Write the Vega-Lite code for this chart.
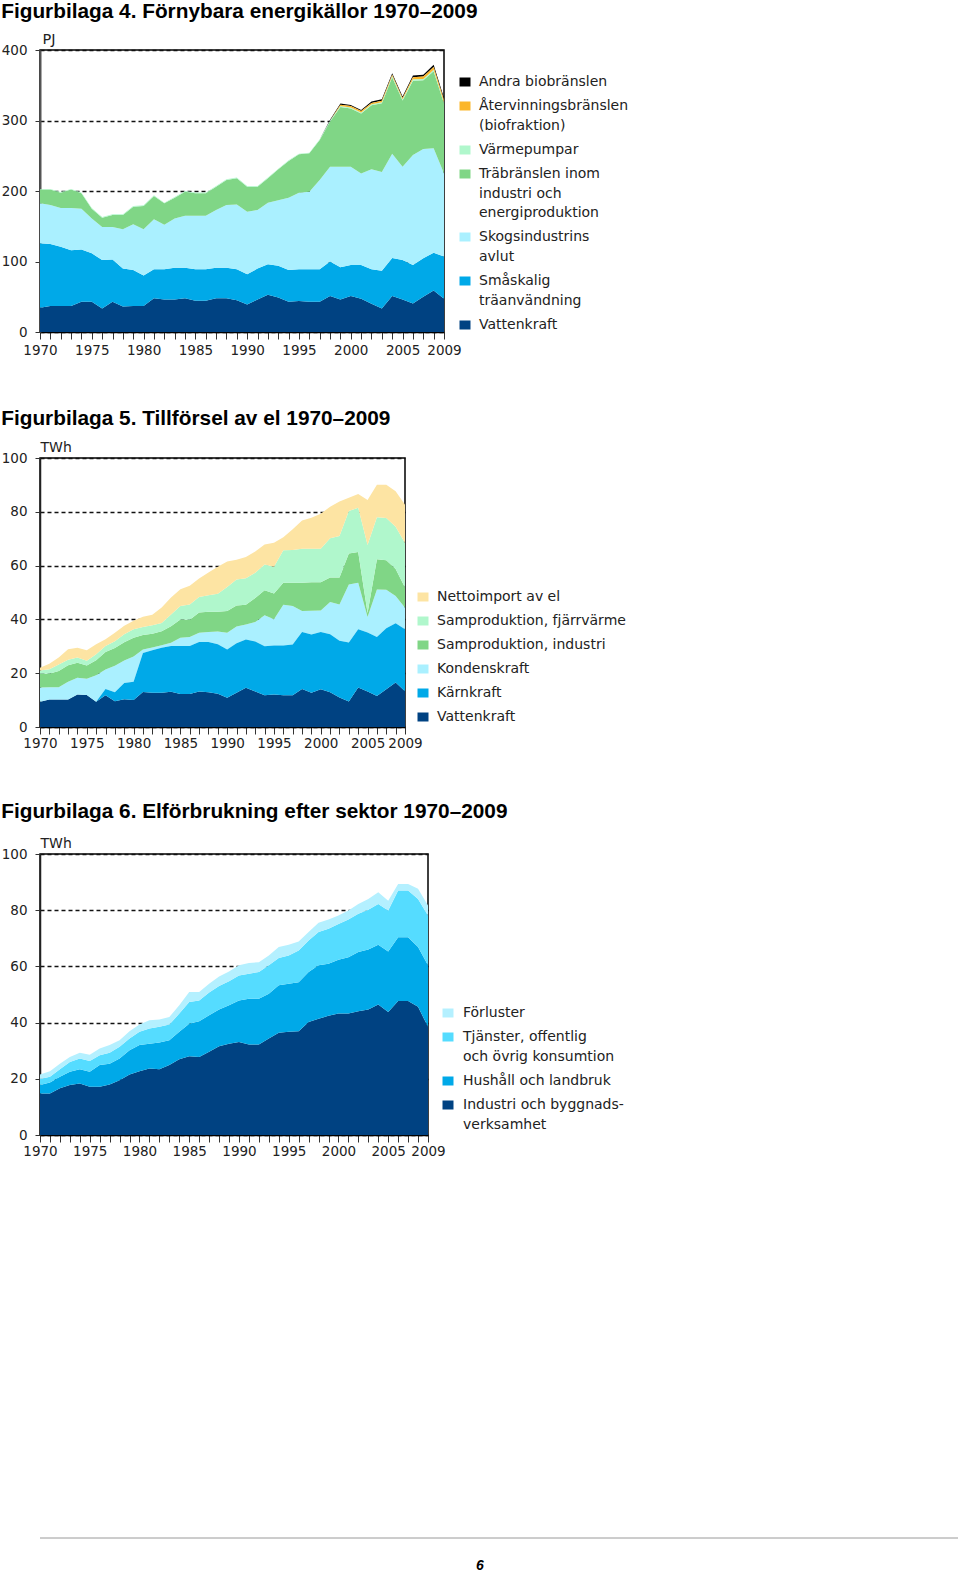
{
"$schema": "https://vega.github.io/schema/vega-lite/v6.json",
"background": "white",
"padding": {"left": 0, "top": 0, "right": 0, "bottom": 0},
"config": {
 "view": {"stroke": "#000", "strokeWidth": 1.5},
 "font": "DejaVu Sans",
 "axis": {"labelFont": "DejaVu Sans", "labelFontSize": 13.5, "labelColor": "#222", "titleFont": "DejaVu Sans", "titleFontSize": 14, "titleFontWeight": "normal", "titleColor": "#222", "tickColor": "#333", "domainColor": "#333"},
 "legend": {"labelFont": "DejaVu Sans", "labelFontSize": 14, "labelColor": "#222"},
 "title": {"font": "Liberation Sans", "fontSize": 20.8, "fontWeight": "bold", "anchor": "start", "frame": "bounds", "color": "#000"},
 "area": {"opacity": 1}
},
"spacing": 378,
"vconcat": [
{
"spacing": 49,
"resolve": {"scale": {"color": "independent"}, "legend": {"color": "independent"}},
"vconcat": [
{
 "title": {"text": "Figurbilaga 4. Förnybara energikällor 1970–2009", "offset": 8},
 "width": 404, "height": 282,
 "data": {"values": [
{"year":1970,"s":1,"v":34.5},{"year":1970,"s":2,"v":91.3},{"year":1970,"s":3,"v":56.7},{"year":1970,"s":4,"v":19.5},{"year":1970,"s":5,"v":1},
{"year":1971,"s":1,"v":37},{"year":1971,"s":2,"v":88},{"year":1971,"s":3,"v":55},{"year":1971,"s":4,"v":22},{"year":1971,"s":5,"v":1},
{"year":1972,"s":1,"v":37},{"year":1972,"s":2,"v":84},{"year":1972,"s":3,"v":55},{"year":1972,"s":4,"v":21.6},{"year":1972,"s":5,"v":1},
{"year":1973,"s":1,"v":37},{"year":1973,"s":2,"v":79},{"year":1973,"s":3,"v":60},{"year":1973,"s":4,"v":26},{"year":1973,"s":5,"v":1},
{"year":1974,"s":1,"v":43},{"year":1974,"s":2,"v":74},{"year":1974,"s":3,"v":58},{"year":1974,"s":4,"v":21.7},{"year":1974,"s":5,"v":1},
{"year":1975,"s":1,"v":43},{"year":1975,"s":2,"v":68.6},{"year":1975,"s":3,"v":49.4},{"year":1975,"s":4,"v":14},{"year":1975,"s":5,"v":1},
{"year":1976,"s":1,"v":33.5},{"year":1976,"s":2,"v":68.5},{"year":1976,"s":3,"v":47},{"year":1976,"s":4,"v":13},{"year":1976,"s":5,"v":1},
{"year":1977,"s":1,"v":43},{"year":1977,"s":2,"v":60},{"year":1977,"s":3,"v":46},{"year":1977,"s":4,"v":17},{"year":1977,"s":5,"v":1},
{"year":1978,"s":1,"v":36},{"year":1978,"s":2,"v":54},{"year":1978,"s":3,"v":55.6},{"year":1978,"s":4,"v":20.4},{"year":1978,"s":5,"v":1},
{"year":1979,"s":1,"v":37},{"year":1979,"s":2,"v":51},{"year":1979,"s":3,"v":64.7},{"year":1979,"s":4,"v":25.1},{"year":1979,"s":5,"v":1},
{"year":1980,"s":1,"v":37},{"year":1980,"s":2,"v":43},{"year":1980,"s":3,"v":65.6},{"year":1980,"s":4,"v":33.1},{"year":1980,"s":5,"v":1},
{"year":1981,"s":1,"v":48},{"year":1981,"s":2,"v":41},{"year":1981,"s":3,"v":71},{"year":1981,"s":4,"v":33},{"year":1981,"s":5,"v":1},
{"year":1982,"s":1,"v":46},{"year":1982,"s":2,"v":43},{"year":1982,"s":3,"v":63},{"year":1982,"s":4,"v":30.5},{"year":1982,"s":5,"v":1},
{"year":1983,"s":1,"v":46},{"year":1983,"s":2,"v":45},{"year":1983,"s":3,"v":70},{"year":1983,"s":4,"v":29.5},{"year":1983,"s":5,"v":1},
{"year":1984,"s":1,"v":48},{"year":1984,"s":2,"v":43},{"year":1984,"s":3,"v":74},{"year":1984,"s":4,"v":34},{"year":1984,"s":5,"v":1},
{"year":1985,"s":1,"v":44.5},{"year":1985,"s":2,"v":44.5},{"year":1985,"s":3,"v":76},{"year":1985,"s":4,"v":31.7},{"year":1985,"s":5,"v":1},
{"year":1986,"s":1,"v":44.5},{"year":1986,"s":2,"v":44.5},{"year":1986,"s":3,"v":76},{"year":1986,"s":4,"v":31.7},{"year":1986,"s":5,"v":1},
{"year":1987,"s":1,"v":48},{"year":1987,"s":2,"v":43},{"year":1987,"s":3,"v":82},{"year":1987,"s":4,"v":33},{"year":1987,"s":5,"v":1},
{"year":1988,"s":1,"v":48},{"year":1988,"s":2,"v":43},{"year":1988,"s":3,"v":89},{"year":1988,"s":4,"v":35.6},{"year":1988,"s":5,"v":1},
{"year":1989,"s":1,"v":45},{"year":1989,"s":2,"v":44},{"year":1989,"s":3,"v":92},{"year":1989,"s":4,"v":37},{"year":1989,"s":5,"v":1},
{"year":1990,"s":1,"v":39},{"year":1990,"s":2,"v":43},{"year":1990,"s":3,"v":88.7},{"year":1990,"s":4,"v":35.3},{"year":1990,"s":5,"v":1},
{"year":1991,"s":1,"v":46},{"year":1991,"s":2,"v":44},{"year":1991,"s":3,"v":83},{"year":1991,"s":4,"v":33},{"year":1991,"s":5,"v":1},
{"year":1992,"s":1,"v":53},{"year":1992,"s":2,"v":43},{"year":1992,"s":3,"v":87.5},{"year":1992,"s":4,"v":34.5},{"year":1992,"s":5,"v":1},
{"year":1993,"s":1,"v":49},{"year":1993,"s":2,"v":45},{"year":1993,"s":3,"v":93},{"year":1993,"s":4,"v":43.7},{"year":1993,"s":5,"v":1},
{"year":1994,"s":1,"v":43},{"year":1994,"s":2,"v":45},{"year":1994,"s":3,"v":102.5},{"year":1994,"s":4,"v":52.1},{"year":1994,"s":5,"v":1},
{"year":1995,"s":1,"v":44},{"year":1995,"s":2,"v":45},{"year":1995,"s":3,"v":108.6},{"year":1995,"s":4,"v":54.4},{"year":1995,"s":5,"v":1},
{"year":1996,"s":1,"v":43},{"year":1996,"s":2,"v":46},{"year":1996,"s":3,"v":110},{"year":1996,"s":4,"v":54.4},{"year":1996,"s":5,"v":1},
{"year":1997,"s":1,"v":43},{"year":1997,"s":2,"v":46},{"year":1997,"s":3,"v":126.6},{"year":1997,"s":4,"v":56.7},{"year":1997,"s":5,"v":1},
{"year":1998,"s":1,"v":51},{"year":1998,"s":2,"v":49},{"year":1998,"s":3,"v":134.5},{"year":1998,"s":4,"v":64},{"year":1998,"s":5,"v":1.5},{"year":1998,"s":7,"v":1},
{"year":1999,"s":1,"v":46},{"year":1999,"s":2,"v":46},{"year":1999,"s":3,"v":142.5},{"year":1999,"s":4,"v":84.5},{"year":1999,"s":5,"v":1.5},{"year":1999,"s":6,"v":2},{"year":1999,"s":7,"v":1.5},
{"year":2000,"s":1,"v":51},{"year":2000,"s":2,"v":44},{"year":2000,"s":3,"v":139.5},{"year":2000,"s":4,"v":82.5},{"year":2000,"s":5,"v":1.5},{"year":2000,"s":6,"v":2},{"year":2000,"s":7,"v":1.5},
{"year":2001,"s":1,"v":47},{"year":2001,"s":2,"v":48},{"year":2001,"s":3,"v":130},{"year":2001,"s":4,"v":85},{"year":2001,"s":5,"v":1.5},{"year":2001,"s":6,"v":2},{"year":2001,"s":7,"v":1.5},
{"year":2002,"s":1,"v":40},{"year":2002,"s":2,"v":49},{"year":2002,"s":3,"v":141.7},{"year":2002,"s":4,"v":90.8},{"year":2002,"s":5,"v":1.5},{"year":2002,"s":6,"v":2},{"year":2002,"s":7,"v":2},
{"year":2003,"s":1,"v":33.5},{"year":2003,"s":2,"v":53.5},{"year":2003,"s":3,"v":140},{"year":2003,"s":4,"v":97.5},{"year":2003,"s":5,"v":1.5},{"year":2003,"s":6,"v":2},{"year":2003,"s":7,"v":2},
{"year":2004,"s":1,"v":51},{"year":2004,"s":2,"v":54},{"year":2004,"s":3,"v":148},{"year":2004,"s":4,"v":108.5},{"year":2004,"s":5,"v":1.5},{"year":2004,"s":6,"v":2},{"year":2004,"s":7,"v":2},
{"year":2005,"s":1,"v":46},{"year":2005,"s":2,"v":56},{"year":2005,"s":3,"v":132.5},{"year":2005,"s":4,"v":94},{"year":2005,"s":5,"v":1.5},{"year":2005,"s":6,"v":2},{"year":2005,"s":7,"v":2},
{"year":2006,"s":1,"v":40.5},{"year":2006,"s":2,"v":54.5},{"year":2006,"s":3,"v":156},{"year":2006,"s":4,"v":105.5},{"year":2006,"s":5,"v":2},{"year":2006,"s":6,"v":3},{"year":2006,"s":7,"v":2.5},
{"year":2007,"s":1,"v":50},{"year":2007,"s":2,"v":54.5},{"year":2007,"s":3,"v":155.1},{"year":2007,"s":4,"v":97.4},{"year":2007,"s":5,"v":2},{"year":2007,"s":6,"v":3.5},{"year":2007,"s":7,"v":2.5},
{"year":2008,"s":1,"v":59},{"year":2008,"s":2,"v":53.5},{"year":2008,"s":3,"v":148},{"year":2008,"s":4,"v":109.5},{"year":2008,"s":5,"v":2},{"year":2008,"s":6,"v":4},{"year":2008,"s":7,"v":3},
{"year":2009,"s":1,"v":47},{"year":2009,"s":2,"v":60},{"year":2009,"s":3,"v":118},{"year":2009,"s":4,"v":99},{"year":2009,"s":5,"v":2},{"year":2009,"s":6,"v":3},{"year":2009,"s":7,"v":3}
 ]},
 "transform": [{"lookup": "s", "from": {"data": {"values": [{"s":1,"serie":"Vattenkraft"},{"s":2,"serie":"Småskalig träanvändning"},{"s":3,"serie":"Skogsindustrins avlut"},{"s":4,"serie":"Träbränslen inom industri och energiproduktion"},{"s":5,"serie":"Värmepumpar"},{"s":6,"serie":"Återvinningsbränslen (biofraktion)"},{"s":7,"serie":"Andra biobränslen"}]}, "key": "s", "fields": ["serie"]}}],
 "mark": {"type": "area", "interpolate": "linear"},
 "encoding": {
  "x": {"field": "year", "type": "quantitative", "scale": {"domain": [1970, 2009], "nice": false, "zero": false},
   "axis": {"title": null, "values": [1970,1971,1972,1973,1974,1975,1976,1977,1978,1979,1980,1981,1982,1983,1984,1985,1986,1987,1988,1989,1990,1991,1992,1993,1994,1995,1996,1997,1998,1999,2000,2001,2002,2003,2004,2005,2006,2007,2008,2009], "labelExpr": "(datum.value % 5 == 0 || datum.value == 2009) ? '' + datum.value : ''", "labelOverlap": false, "labelFlush": false, "tickSize": 7, "labelPadding": 4, "grid": false, "domainColor": "#000", "domainWidth": 1.5}},
  "y": {"field": "v", "type": "quantitative", "stack": "zero", "scale": {"domain": [0, 400], "nice": false},
   "axis": {"title": "PJ", "titleAngle": 0, "titleX": 2, "titleY": -4, "titleAlign": "left", "titleBaseline": "bottom", "titleFontSize": 14.5, "values": [0,100,200,300,400], "format": "d", "grid": true, "gridDash": [4,3], "gridColor": "#111", "gridWidth": 1.3, "tickSize": 5, "labelPadding": 8, "domainColor": "#555", "domainWidth": 2}},
  "color": {"field": "serie", "type": "nominal",
   "scale": {"domain": ["Andra biobränslen","Återvinningsbränslen (biofraktion)","Värmepumpar","Träbränslen inom industri och energiproduktion","Skogsindustrins avlut","Småskalig träanvändning","Vattenkraft"], "range": ["#000000","#fbb62a","#b0f7cc","#80d686","#aaf0ff","#00a9e8","#004282"]},
   "legend": {"orient": "none", "legendX": 418, "legendY": 25, "title": null, "symbolType": "M-1.1,-0.9H1.1V0.9H-1.1Z", "symbolSize": 100, "symbolStrokeWidth": 0, "labelOffset": 7, "rowPadding": 10, "labelLimit": 0, "padding": 0,
    "labelExpr": "datum.label == 'Återvinningsbränslen (biofraktion)' ? ['Återvinningsbränslen', '(biofraktion)'] : datum.label == 'Träbränslen inom industri och energiproduktion' ? ['Träbränslen inom', 'industri och', 'energiproduktion'] : datum.label == 'Skogsindustrins avlut' ? ['Skogsindustrins', 'avlut'] : datum.label == 'Småskalig träanvändning' ? ['Småskalig', 'träanvändning'] : datum.label",
    "encode": {"labels": {"update": {"lineHeight": {"value": 19.5}}}}}},
  "detail": {"field": "s", "type": "quantitative"},
  "order": {"field": "s", "type": "quantitative", "sort": "ascending"}
 }
},
{
 "title": {"text": "Figurbilaga 5. Tillförsel av el 1970–2009", "offset": 10},
 "width": 365, "height": 269,
 "data": {"values": [
{"year":1970,"s":1,"v":9.4},{"year":1970,"s":3,"v":5.3},{"year":1970,"s":4,"v":5.1},{"year":1970,"s":5,"v":1.2},{"year":1970,"s":6,"v":1},
{"year":1971,"s":1,"v":10.2},{"year":1971,"s":3,"v":4.6},{"year":1971,"s":4,"v":5},{"year":1971,"s":5,"v":1.7},{"year":1971,"s":6,"v":2},
{"year":1972,"s":1,"v":10.2},{"year":1972,"s":3,"v":4.6},{"year":1972,"s":4,"v":6},{"year":1972,"s":5,"v":2.4},{"year":1972,"s":6,"v":2.6},
{"year":1973,"s":1,"v":10.2},{"year":1973,"s":3,"v":6.6},{"year":1973,"s":4,"v":6.2},{"year":1973,"s":5,"v":2},{"year":1973,"s":6,"v":3.9},
{"year":1974,"s":1,"v":12.1},{"year":1974,"s":3,"v":6.2},{"year":1974,"s":4,"v":5.6},{"year":1974,"s":5,"v":1.9},{"year":1974,"s":6,"v":3.7},
{"year":1975,"s":1,"v":11.9},{"year":1975,"s":3,"v":6},{"year":1975,"s":4,"v":5},{"year":1975,"s":5,"v":1.7},{"year":1975,"s":6,"v":3.9},
{"year":1976,"s":1,"v":9.4},{"year":1976,"s":2,"v":0},{"year":1976,"s":3,"v":9.8},{"year":1976,"s":4,"v":5.6},{"year":1976,"s":5,"v":2.2},{"year":1976,"s":6,"v":3.8},
{"year":1977,"s":1,"v":11.8},{"year":1977,"s":2,"v":2.3},{"year":1977,"s":3,"v":7.3},{"year":1977,"s":4,"v":6.5},{"year":1977,"s":5,"v":2.2},{"year":1977,"s":6,"v":2.5},
{"year":1978,"s":1,"v":9.6},{"year":1978,"s":2,"v":3.3},{"year":1978,"s":3,"v":9.9},{"year":1978,"s":4,"v":6.6},{"year":1978,"s":5,"v":2.5},{"year":1978,"s":6,"v":3.1},
{"year":1979,"s":1,"v":10.3},{"year":1979,"s":2,"v":6.1},{"year":1979,"s":3,"v":8.3},{"year":1979,"s":4,"v":6.8},{"year":1979,"s":5,"v":3},{"year":1979,"s":6,"v":3.1},
{"year":1980,"s":1,"v":10},{"year":1980,"s":2,"v":6.8},{"year":1980,"s":3,"v":9.4},{"year":1980,"s":4,"v":7},{"year":1980,"s":5,"v":3.1},{"year":1980,"s":6,"v":3.2},
{"year":1981,"s":1,"v":13},{"year":1981,"s":2,"v":14.5},{"year":1981,"s":3,"v":1.3},{"year":1981,"s":4,"v":5.4},{"year":1981,"s":5,"v":3},{"year":1981,"s":6,"v":3.8},
{"year":1982,"s":1,"v":12.7},{"year":1982,"s":2,"v":15.8},{"year":1982,"s":3,"v":1.1},{"year":1982,"s":4,"v":5.1},{"year":1982,"s":5,"v":3.1},{"year":1982,"s":6,"v":3.9},
{"year":1983,"s":1,"v":12.7},{"year":1983,"s":2,"v":16.8},{"year":1983,"s":3,"v":0.9},{"year":1983,"s":4,"v":5.2},{"year":1983,"s":5,"v":3.1},{"year":1983,"s":6,"v":5.7},
{"year":1984,"s":1,"v":13.1},{"year":1984,"s":2,"v":17},{"year":1984,"s":3,"v":1.2},{"year":1984,"s":4,"v":6.2},{"year":1984,"s":5,"v":4.3},{"year":1984,"s":6,"v":6.3},
{"year":1985,"s":1,"v":12.3},{"year":1985,"s":2,"v":17.8},{"year":1985,"s":3,"v":3.1},{"year":1985,"s":4,"v":6.8},{"year":1985,"s":5,"v":5},{"year":1985,"s":6,"v":6.2},
{"year":1986,"s":1,"v":12.3},{"year":1986,"s":2,"v":17.8},{"year":1986,"s":3,"v":3.4},{"year":1986,"s":4,"v":6.4},{"year":1986,"s":5,"v":5.6},{"year":1986,"s":6,"v":7},
{"year":1987,"s":1,"v":13.2},{"year":1987,"s":2,"v":18.4},{"year":1987,"s":3,"v":3.4},{"year":1987,"s":4,"v":7.6},{"year":1987,"s":5,"v":5.7},{"year":1987,"s":6,"v":6.9},
{"year":1988,"s":1,"v":12.9},{"year":1988,"s":2,"v":18.7},{"year":1988,"s":3,"v":3.7},{"year":1988,"s":4,"v":7.5},{"year":1988,"s":5,"v":6.2},{"year":1988,"s":6,"v":8.4},
{"year":1989,"s":1,"v":12.4},{"year":1989,"s":2,"v":18.4},{"year":1989,"s":3,"v":4.7},{"year":1989,"s":4,"v":7.3},{"year":1989,"s":5,"v":6.7},{"year":1989,"s":6,"v":10.1},
{"year":1990,"s":1,"v":10.9},{"year":1990,"s":2,"v":17.9},{"year":1990,"s":3,"v":6.2},{"year":1990,"s":4,"v":8.1},{"year":1990,"s":5,"v":8.9},{"year":1990,"s":6,"v":9.5},
{"year":1991,"s":1,"v":12.7},{"year":1991,"s":2,"v":18.4},{"year":1991,"s":3,"v":6.3},{"year":1991,"s":4,"v":7.8},{"year":1991,"s":5,"v":9.6},{"year":1991,"s":6,"v":7.4},
{"year":1992,"s":1,"v":14.6},{"year":1992,"s":2,"v":17.9},{"year":1992,"s":3,"v":5.6},{"year":1992,"s":4,"v":7.3},{"year":1992,"s":5,"v":9.9},{"year":1992,"s":6,"v":7.9},
{"year":1993,"s":1,"v":13.2},{"year":1993,"s":2,"v":18.6},{"year":1993,"s":3,"v":7.2},{"year":1993,"s":4,"v":9},{"year":1993,"s":5,"v":9.3},{"year":1993,"s":6,"v":7.9},
{"year":1994,"s":1,"v":11.8},{"year":1994,"s":2,"v":18.2},{"year":1994,"s":3,"v":11.5},{"year":1994,"s":4,"v":9.3},{"year":1994,"s":5,"v":9.6},{"year":1994,"s":6,"v":7.4},
{"year":1995,"s":1,"v":12.1},{"year":1995,"s":2,"v":18.2},{"year":1995,"s":3,"v":9.8},{"year":1995,"s":4,"v":9.5},{"year":1995,"s":5,"v":10},{"year":1995,"s":6,"v":8.9},
{"year":1996,"s":1,"v":11.8},{"year":1996,"s":2,"v":18.5},{"year":1996,"s":3,"v":15.1},{"year":1996,"s":4,"v":8.2},{"year":1996,"s":5,"v":12.1},{"year":1996,"s":6,"v":4.8},
{"year":1997,"s":1,"v":11.8},{"year":1997,"s":2,"v":18.9},{"year":1997,"s":3,"v":14.3},{"year":1997,"s":4,"v":8.6},{"year":1997,"s":5,"v":12.2},{"year":1997,"s":6,"v":7.7},
{"year":1998,"s":1,"v":14.1},{"year":1998,"s":2,"v":21.2},{"year":1998,"s":3,"v":7.8},{"year":1998,"s":4,"v":10.5},{"year":1998,"s":5,"v":12.7},{"year":1998,"s":6,"v":10.5},
{"year":1999,"s":1,"v":12.7},{"year":1999,"s":2,"v":21.7},{"year":1999,"s":3,"v":8.8},{"year":1999,"s":4,"v":10.6},{"year":1999,"s":5,"v":12.5},{"year":1999,"s":6,"v":11.5},
{"year":2000,"s":1,"v":14},{"year":2000,"s":2,"v":21.3},{"year":2000,"s":3,"v":8},{"year":2000,"s":4,"v":10.5},{"year":2000,"s":5,"v":12.5},{"year":2000,"s":6,"v":13},
{"year":2001,"s":1,"v":12.9},{"year":2001,"s":2,"v":21.6},{"year":2001,"s":3,"v":12},{"year":2001,"s":4,"v":9.1},{"year":2001,"s":5,"v":14.6},{"year":2001,"s":6,"v":11.7},
{"year":2002,"s":1,"v":11},{"year":2002,"s":2,"v":21.1},{"year":2002,"s":3,"v":13.4},{"year":2002,"s":4,"v":10.1},{"year":2002,"s":5,"v":15.4},{"year":2002,"s":6,"v":12.8},
{"year":2003,"s":1,"v":9.5},{"year":2003,"s":2,"v":21.9},{"year":2003,"s":3,"v":21.6},{"year":2003,"s":4,"v":11.5},{"year":2003,"s":5,"v":15.8},{"year":2003,"s":6,"v":4.9},
{"year":2004,"s":1,"v":14.7},{"year":2004,"s":2,"v":21.6},{"year":2004,"s":3,"v":17.3},{"year":2004,"s":4,"v":11.5},{"year":2004,"s":5,"v":16.4},{"year":2004,"s":6,"v":5.1},
{"year":2005,"s":1,"v":13.2},{"year":2005,"s":2,"v":21.9},{"year":2005,"s":3,"v":5.8},{"year":2005,"s":4,"v":1.5},{"year":2005,"s":5,"v":25.3},{"year":2005,"s":6,"v":16.7},
{"year":2006,"s":1,"v":11.5},{"year":2006,"s":2,"v":22},{"year":2006,"s":3,"v":17.6},{"year":2006,"s":4,"v":11.3},{"year":2006,"s":5,"v":15.6},{"year":2006,"s":6,"v":12.1},
{"year":2007,"s":1,"v":14},{"year":2007,"s":2,"v":22.7},{"year":2007,"s":3,"v":14.3},{"year":2007,"s":4,"v":11},{"year":2007,"s":5,"v":15.7},{"year":2007,"s":6,"v":12.4},
{"year":2008,"s":1,"v":16.5},{"year":2008,"s":2,"v":22.1},{"year":2008,"s":3,"v":10.1},{"year":2008,"s":4,"v":10},{"year":2008,"s":5,"v":15.7},{"year":2008,"s":6,"v":13.2},
{"year":2009,"s":1,"v":13.3},{"year":2009,"s":2,"v":23},{"year":2009,"s":3,"v":8},{"year":2009,"s":4,"v":7.6},{"year":2009,"s":5,"v":16.5},{"year":2009,"s":6,"v":14.2}
 ]},
 "transform": [{"lookup": "s", "from": {"data": {"values": [{"s":1,"serie":"Vattenkraft"},{"s":2,"serie":"Kärnkraft"},{"s":3,"serie":"Kondenskraft"},{"s":4,"serie":"Samproduktion, industri"},{"s":5,"serie":"Samproduktion, fjärrvärme"},{"s":6,"serie":"Nettoimport av el"}]}, "key": "s", "fields": ["serie"]}}],
 "mark": {"type": "area", "interpolate": "linear"},
 "encoding": {
  "x": {"field": "year", "type": "quantitative", "scale": {"domain": [1970, 2009], "nice": false, "zero": false},
   "axis": {"title": null, "values": [1970,1971,1972,1973,1974,1975,1976,1977,1978,1979,1980,1981,1982,1983,1984,1985,1986,1987,1988,1989,1990,1991,1992,1993,1994,1995,1996,1997,1998,1999,2000,2001,2002,2003,2004,2005,2006,2007,2008,2009], "labelExpr": "(datum.value % 5 == 0 || datum.value == 2009) ? '' + datum.value : ''", "labelOverlap": false, "labelFlush": false, "tickSize": 7, "labelPadding": 2, "grid": false, "domainColor": "#000", "domainWidth": 1.5}},
  "y": {"field": "v", "type": "quantitative", "stack": "zero", "scale": {"domain": [0, 100], "nice": false},
   "axis": {"title": "TWh", "titleAngle": 0, "titleX": 0, "titleY": -4, "titleAlign": "left", "titleBaseline": "bottom", "values": [0,20,40,60,80,100], "format": "d", "grid": true, "gridDash": [4,3], "gridColor": "#111", "gridWidth": 1.3, "tickSize": 5, "labelPadding": 8, "domainColor": "#222", "domainWidth": 1.5}},
  "color": {"field": "serie", "type": "nominal",
   "scale": {"domain": ["Nettoimport av el","Samproduktion, fjärrvärme","Samproduktion, industri","Kondenskraft","Kärnkraft","Vattenkraft"], "range": ["#fde4a3","#b0f7cc","#80d686","#aaf0ff","#00a9e8","#004282"]},
   "legend": {"orient": "none", "legendX": 376, "legendY": 132, "title": null, "symbolType": "M-1.1,-0.9H1.1V0.9H-1.1Z", "symbolSize": 100, "symbolStrokeWidth": 0, "labelOffset": 7, "rowPadding": 10, "labelLimit": 0, "padding": 0}},
  "detail": {"field": "s", "type": "quantitative"},
  "order": {"field": "s", "type": "quantitative", "sort": "ascending"}
 }
},
{
 "title": {"text": "Figurbilaga 6. Elförbrukning efter sektor 1970–2009", "offset": 13},
 "width": 388, "height": 281,
 "data": {"values": [
{"year":1970,"s":1,"v":14.8},{"year":1970,"s":2,"v":3},{"year":1970,"s":3,"v":2.1},{"year":1970,"s":4,"v":1.6},
{"year":1971,"s":1,"v":14.8},{"year":1971,"s":2,"v":3.9},{"year":1971,"s":3,"v":2},{"year":1971,"s":4,"v":2},
{"year":1972,"s":1,"v":16.6},{"year":1972,"s":2,"v":4.1},{"year":1972,"s":3,"v":2.7},{"year":1972,"s":4,"v":2},
{"year":1973,"s":1,"v":17.8},{"year":1973,"s":2,"v":4.7},{"year":1973,"s":3,"v":3.5},{"year":1973,"s":4,"v":1.8},
{"year":1974,"s":1,"v":18.3},{"year":1974,"s":2,"v":5.1},{"year":1974,"s":3,"v":3.8},{"year":1974,"s":4,"v":2.1},
{"year":1975,"s":1,"v":17.2},{"year":1975,"s":2,"v":5.3},{"year":1975,"s":3,"v":3.8},{"year":1975,"s":4,"v":2.3},
{"year":1976,"s":1,"v":17.2},{"year":1976,"s":2,"v":7.7},{"year":1976,"s":3,"v":3.5},{"year":1976,"s":4,"v":2.4},
{"year":1977,"s":1,"v":18},{"year":1977,"s":2,"v":7.4},{"year":1977,"s":3,"v":3.9},{"year":1977,"s":4,"v":2.7},
{"year":1978,"s":1,"v":19.5},{"year":1978,"s":2,"v":7.7},{"year":1978,"s":3,"v":4.2},{"year":1978,"s":4,"v":2.3},
{"year":1979,"s":1,"v":21.5},{"year":1979,"s":2,"v":8.7},{"year":1979,"s":3,"v":4.1},{"year":1979,"s":4,"v":2.6},
{"year":1980,"s":1,"v":22.7},{"year":1980,"s":2,"v":9.3},{"year":1980,"s":3,"v":4.7},{"year":1980,"s":4,"v":2.6},
{"year":1981,"s":1,"v":23.7},{"year":1981,"s":2,"v":8.8},{"year":1981,"s":3,"v":5.4},{"year":1981,"s":4,"v":2.9},
{"year":1982,"s":1,"v":23.4},{"year":1982,"s":2,"v":9.5},{"year":1982,"s":3,"v":5.6},{"year":1982,"s":4,"v":2.6},
{"year":1983,"s":1,"v":24.9},{"year":1983,"s":2,"v":8.8},{"year":1983,"s":3,"v":5.6},{"year":1983,"s":4,"v":2.7},
{"year":1984,"s":1,"v":27},{"year":1984,"s":2,"v":9.7},{"year":1984,"s":3,"v":6.5},{"year":1984,"s":4,"v":3},
{"year":1985,"s":1,"v":28},{"year":1985,"s":2,"v":11.6},{"year":1985,"s":3,"v":7.7},{"year":1985,"s":4,"v":3.6},
{"year":1986,"s":1,"v":27.8},{"year":1986,"s":2,"v":12.7},{"year":1986,"s":3,"v":7.4},{"year":1986,"s":4,"v":3},
{"year":1987,"s":1,"v":29.6},{"year":1987,"s":2,"v":13},{"year":1987,"s":3,"v":8.1},{"year":1987,"s":4,"v":3.1},
{"year":1988,"s":1,"v":31.6},{"year":1988,"s":2,"v":13.1},{"year":1988,"s":3,"v":8.3},{"year":1988,"s":4,"v":3.4},
{"year":1989,"s":1,"v":32.5},{"year":1989,"s":2,"v":13.7},{"year":1989,"s":3,"v":8.5},{"year":1989,"s":4,"v":3.5},
{"year":1990,"s":1,"v":33.1},{"year":1990,"s":2,"v":14.8},{"year":1990,"s":3,"v":8.9},{"year":1990,"s":4,"v":3.6},
{"year":1991,"s":1,"v":32.2},{"year":1991,"s":2,"v":16.3},{"year":1991,"s":3,"v":8.9},{"year":1991,"s":4,"v":3.8},
{"year":1992,"s":1,"v":32.2},{"year":1992,"s":2,"v":16.3},{"year":1992,"s":3,"v":9.5},{"year":1992,"s":4,"v":3.5},
{"year":1993,"s":1,"v":34.3},{"year":1993,"s":2,"v":16},{"year":1993,"s":3,"v":10.1},{"year":1993,"s":4,"v":3.5},
{"year":1994,"s":1,"v":36.4},{"year":1994,"s":2,"v":16.9},{"year":1994,"s":3,"v":9.7},{"year":1994,"s":4,"v":3.9},
{"year":1995,"s":1,"v":36.7},{"year":1995,"s":2,"v":17.1},{"year":1995,"s":3,"v":10.1},{"year":1995,"s":4,"v":3.8},
{"year":1996,"s":1,"v":36.9},{"year":1996,"s":2,"v":17.5},{"year":1996,"s":3,"v":11.3},{"year":1996,"s":4,"v":3.2},
{"year":1997,"s":1,"v":40.2},{"year":1997,"s":2,"v":17.8},{"year":1997,"s":3,"v":11.2},{"year":1997,"s":4,"v":3},
{"year":1998,"s":1,"v":41.4},{"year":1998,"s":2,"v":19},{"year":1998,"s":3,"v":11.8},{"year":1998,"s":4,"v":3.3},
{"year":1999,"s":1,"v":42.4},{"year":1999,"s":2,"v":18.5},{"year":1999,"s":3,"v":12.5},{"year":1999,"s":4,"v":3.3},
{"year":2000,"s":1,"v":43.2},{"year":2000,"s":2,"v":19.2},{"year":2000,"s":3,"v":12.7},{"year":2000,"s":4,"v":3},
{"year":2001,"s":1,"v":43.2},{"year":2001,"s":2,"v":20.1},{"year":2001,"s":3,"v":13.4},{"year":2001,"s":4,"v":3.2},
{"year":2002,"s":1,"v":44},{"year":2002,"s":2,"v":21.1},{"year":2002,"s":3,"v":13.6},{"year":2002,"s":4,"v":3.5},
{"year":2003,"s":1,"v":44.7},{"year":2003,"s":2,"v":21.3},{"year":2003,"s":3,"v":14.2},{"year":2003,"s":4,"v":3.8},
{"year":2004,"s":1,"v":46.4},{"year":2004,"s":2,"v":21.3},{"year":2004,"s":3,"v":14.5},{"year":2004,"s":4,"v":4.2},
{"year":2005,"s":1,"v":43.8},{"year":2005,"s":2,"v":21.5},{"year":2005,"s":3,"v":14.6},{"year":2005,"s":4,"v":3.5},
{"year":2006,"s":1,"v":47.7},{"year":2006,"s":2,"v":22.7},{"year":2006,"s":3,"v":16.6},{"year":2006,"s":4,"v":2.3},
{"year":2007,"s":1,"v":47.7},{"year":2007,"s":2,"v":22.7},{"year":2007,"s":3,"v":16.6},{"year":2007,"s":4,"v":2.3},
{"year":2008,"s":1,"v":45.6},{"year":2008,"s":2,"v":21.3},{"year":2008,"s":3,"v":17.1},{"year":2008,"s":4,"v":3.6},
{"year":2009,"s":1,"v":38.5},{"year":2009,"s":2,"v":21.9},{"year":2009,"s":3,"v":17.7},{"year":2009,"s":4,"v":3.6}
 ]},
 "transform": [{"lookup": "s", "from": {"data": {"values": [{"s":1,"serie":"Industri och byggnadsverksamhet"},{"s":2,"serie":"Hushåll och landbruk"},{"s":3,"serie":"Tjänster, offentlig och övrig konsumtion"},{"s":4,"serie":"Förluster"}]}, "key": "s", "fields": ["serie"]}}],
 "mark": {"type": "area", "interpolate": "linear"},
 "encoding": {
  "x": {"field": "year", "type": "quantitative", "scale": {"domain": [1970, 2009], "nice": false, "zero": false},
   "axis": {"title": null, "values": [1970,1971,1972,1973,1974,1975,1976,1977,1978,1979,1980,1981,1982,1983,1984,1985,1986,1987,1988,1989,1990,1991,1992,1993,1994,1995,1996,1997,1998,1999,2000,2001,2002,2003,2004,2005,2006,2007,2008,2009], "labelExpr": "(datum.value % 5 == 0 || datum.value == 2009) ? '' + datum.value : ''", "labelOverlap": false, "labelFlush": false, "tickSize": 7, "labelPadding": 2, "grid": false, "domainColor": "#000", "domainWidth": 1.5}},
  "y": {"field": "v", "type": "quantitative", "stack": "zero", "scale": {"domain": [0, 100], "nice": false},
   "axis": {"title": "TWh", "titleAngle": 0, "titleX": 0, "titleY": -4, "titleAlign": "left", "titleBaseline": "bottom", "values": [0,20,40,60,80,100], "format": "d", "grid": true, "gridDash": [4,3], "gridColor": "#111", "gridWidth": 1.3, "tickSize": 5, "labelPadding": 8, "domainColor": "#222", "domainWidth": 1.5}},
  "color": {"field": "serie", "type": "nominal",
   "scale": {"domain": ["Förluster","Tjänster, offentlig och övrig konsumtion","Hushåll och landbruk","Industri och byggnadsverksamhet"], "range": ["#b4f0ff","#55dcff","#00a9e8","#004282"]},
   "legend": {"orient": "none", "legendX": 401, "legendY": 152, "title": null, "symbolType": "M-1.1,-0.9H1.1V0.9H-1.1Z", "symbolSize": 100, "symbolStrokeWidth": 0, "labelOffset": 8, "rowPadding": 10, "labelLimit": 0, "padding": 0,
    "labelExpr": "datum.label == 'Tjänster, offentlig och övrig konsumtion' ? ['Tjänster, offentlig', 'och övrig konsumtion'] : datum.label == 'Industri och byggnadsverksamhet' ? ['Industri och byggnads-', 'verksamhet'] : datum.label",
    "encode": {"labels": {"update": {"lineHeight": {"value": 19.5}}}}}},
  "detail": {"field": "s", "type": "quantitative"},
  "order": {"field": "s", "type": "quantitative", "sort": "ascending"}
 }
}
]
},
{
 "width": 918, "height": 1,
 "view": {"stroke": null},
 "data": {"values": [{"v": 0}]},
 "mark": {"type": "rule", "color": "#9a9a9a", "strokeWidth": 1},
 "encoding": {"y": {"field": "v", "type": "quantitative", "axis": null, "scale": {"domain": [0, 1]}}},
 "title": {"text": "6", "orient": "bottom", "anchor": "middle", "frame": "group", "fontSize": 14, "fontStyle": "italic", "fontWeight": "bold", "offset": 20, "dx": -19}
}
]
}
